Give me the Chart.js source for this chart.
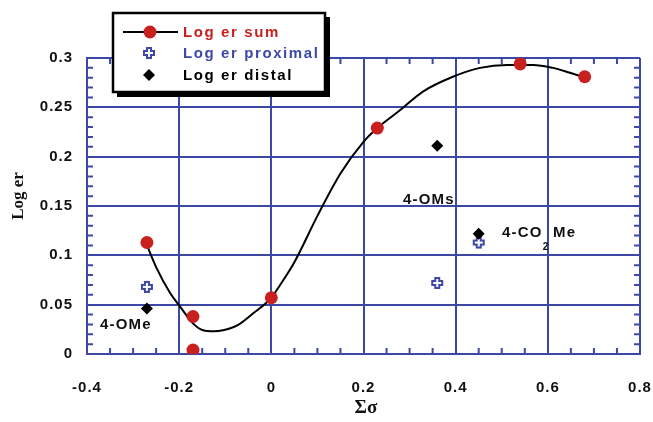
<!DOCTYPE html>
<html>
<head>
<meta charset="utf-8">
<script src="https://cdn.jsdelivr.net/npm/chart.js@4/dist/chart.umd.min.js"></script>
<style>
  html, body { margin: 0; padding: 0; background: #fff; }
  #wrap { width: 653px; height: 422px; position: relative; }
</style>
</head>
<body>
<div id="wrap"><canvas id="c" width="653" height="422"></canvas></div>
<script>
// ---- data ----
const sigmaSum   = [-0.27, -0.17, -0.17, 0.00, 0.23, 0.54, 0.68];
const logErSum   = [0.113, 0.038, 0.004, 0.057, 0.229, 0.294, 0.281];
const sigmaProx  = [-0.27, 0.36, 0.45];
const logErProx  = [0.068, 0.072, 0.113];
const sigmaDist  = [-0.27, 0.36, 0.45];
const logErDist  = [0.046, 0.211, 0.122];
// fitted curve
const fitX = [-0.268, -0.25, -0.22, -0.198, -0.17, -0.148, -0.125, -0.105, -0.074, -0.04, 0.00, 0.019, 0.05, 0.10, 0.15, 0.20, 0.23, 0.279, 0.329, 0.394, 0.453, 0.511, 0.568, 0.611, 0.648, 0.676];
const fitY = [0.108, 0.088, 0.062, 0.048, 0.031, 0.024, 0.023, 0.024, 0.029, 0.041, 0.057, 0.070, 0.093, 0.140, 0.183, 0.215, 0.229, 0.247, 0.266, 0.281, 0.290, 0.293, 0.293, 0.290, 0.285, 0.281];
const xTicks = [-0.4, -0.2, 0, 0.2, 0.4, 0.6, 0.8];
const xTickLabels = ['-0.4', '-0.2', '0', '0.2', '0.4', '0.6', '0.8'];
const yTicks = [0, 0.05, 0.1, 0.15, 0.2, 0.25, 0.3];
const yTickLabels = ['0', '0.05', '0.1', '0.15', '0.2', '0.25', '0.3'];
const legendLabels = ['Log er sum', 'Log er proximal', 'Log er distal'];
const annotations = ['4-OMe', '4-OMs', '4-CO', '2', 'Me'];

const GRID = '#3d48a6';
const RED = '#c8201e';
const BLUE = '#3d48a8';
const FONT = '"Liberation Sans", Arial, sans-serif';

function makeCross() {
  const c = document.createElement('canvas');
  c.width = 14; c.height = 14;
  const g = c.getContext('2d');
  const m = 7, a = 2, L = 5;
  g.beginPath();
  g.moveTo(m - a, m - L); g.lineTo(m + a, m - L); g.lineTo(m + a, m - a);
  g.lineTo(m + L, m - a); g.lineTo(m + L, m + a); g.lineTo(m + a, m + a);
  g.lineTo(m + a, m + L); g.lineTo(m - a, m + L); g.lineTo(m - a, m + a);
  g.lineTo(m - L, m + a); g.lineTo(m - L, m - a); g.lineTo(m - a, m - a);
  g.closePath();
  g.fillStyle = '#fff'; g.fill();
  g.lineWidth = 2; g.strokeStyle = BLUE; g.stroke();
  return c;
}
const crossImg = makeCross();

const toXY = (xs, ys) => xs.map((x, i) => ({ x: x, y: ys[i] }));

const decorPlugin = {
  id: 'decor',
  beforeDraw(chart) {
    chart.ctx.letterSpacing = '1px';
  },
  beforeDatasetsDraw(chart) {
    const ctx = chart.ctx, a = chart.chartArea;
    const xs = chart.scales.x, ys = chart.scales.y;
    ctx.save();
    ctx.strokeStyle = GRID; ctx.lineWidth = 2;
    const len = 6;
    for (let k = -8; k <= 16; k++) {
      if (k % 4 === 0) continue;
      const px = xs.getPixelForValue(k * 0.05);
      ctx.beginPath();
      ctx.moveTo(px, a.bottom); ctx.lineTo(px, a.bottom - len);
      ctx.moveTo(px, a.top); ctx.lineTo(px, a.top + len);
      ctx.stroke();
    }
    for (let k = 1; k < 30; k++) {
      if (k % 5 === 0) continue;
      const py = ys.getPixelForValue(k * 0.01);
      ctx.beginPath();
      ctx.moveTo(a.left, py); ctx.lineTo(a.left + len, py);
      ctx.moveTo(a.right, py); ctx.lineTo(a.right - len, py);
      ctx.stroke();
    }
    ctx.restore();
  },
  afterDraw(chart) {
    const ctx = chart.ctx;
    ctx.save();
    ctx.letterSpacing = '1.2px';
    // annotations
    ctx.fillStyle = '#111';
    ctx.font = 'bold 15px ' + FONT;
    ctx.textBaseline = 'middle';
    ctx.textAlign = 'left';
    ctx.fillText(annotations[0], 100, 325);
    ctx.fillText(annotations[1], 403, 200);
    ctx.fillText(annotations[2], 502, 233);
    const w = ctx.measureText(annotations[2]).width;
    ctx.font = 'bold 10px ' + FONT;
    ctx.fillText(annotations[3], 502 + w, 247);
    ctx.font = 'bold 15px ' + FONT;
    ctx.fillText(annotations[4], 553, 233);

    // axis titles
    ctx.letterSpacing = '0px';
    ctx.font = 'bold 17px "Liberation Serif", "Times New Roman", serif';
    ctx.textAlign = 'center';
    ctx.save();
    ctx.translate(19, 196);
    ctx.rotate(-Math.PI / 2);
    ctx.fillText('Log er', 0, 0);
    ctx.restore();
    ctx.font = 'bold 19px "Liberation Serif", "Times New Roman", serif';
    ctx.fillText('Σσ', 366, 408);

    // legend box
    ctx.fillStyle = '#000';
    ctx.fillRect(117, 17, 213, 80);
    ctx.fillStyle = '#fff';
    ctx.fillRect(113, 13, 212, 79);
    ctx.lineWidth = 2.5;
    ctx.strokeStyle = '#000';
    ctx.strokeRect(113, 13, 212, 79);

    // row 1
    ctx.lineWidth = 2;
    ctx.beginPath(); ctx.moveTo(123, 32); ctx.lineTo(178, 32); ctx.stroke();
    ctx.fillStyle = RED;
    ctx.beginPath(); ctx.arc(150, 32, 6.5, 0, Math.PI * 2); ctx.fill();
    // row 2
    ctx.drawImage(crossImg, 149 - 7, 53 - 7);
    // row 3
    ctx.fillStyle = '#000';
    ctx.beginPath();
    ctx.moveTo(149, 69); ctx.lineTo(155, 75); ctx.lineTo(149, 81); ctx.lineTo(143, 75);
    ctx.closePath(); ctx.fill();

    ctx.letterSpacing = '1.6px';
    ctx.font = 'bold 15px ' + FONT;
    ctx.textAlign = 'left';
    ctx.textBaseline = 'middle';
    ctx.fillStyle = RED;  ctx.fillText(legendLabels[0], 183, 33);
    ctx.fillStyle = BLUE; ctx.fillText(legendLabels[1], 183, 54);
    ctx.fillStyle = '#000'; ctx.fillText(legendLabels[2], 183, 76);
    ctx.restore();
  }
};

new Chart(document.getElementById('c'), {
  type: 'scatter',
  data: {
    datasets: [
      {
        label: 'fit',
        data: toXY(fitX, fitY),
        showLine: true,
        borderColor: '#000',
        borderWidth: 2,
        pointRadius: 0,
        cubicInterpolationMode: 'monotone',
        fill: false,
        order: 3
      },
      {
        label: legendLabels[0],
        data: toXY(sigmaSum, logErSum),
        pointStyle: 'circle',
        pointRadius: 6.5,
        backgroundColor: RED,
        borderColor: RED,
        borderWidth: 0,
        order: 2
      },
      {
        label: legendLabels[1],
        data: toXY(sigmaProx, logErProx),
        pointStyle: crossImg,
        order: 1
      },
      {
        label: legendLabels[2],
        data: toXY(sigmaDist, logErDist),
        pointStyle: 'rectRot',
        pointRadius: 6,
        backgroundColor: '#000',
        borderColor: '#000',
        borderWidth: 0,
        order: 0
      }
    ]
  },
  options: {
    responsive: false,
    animation: false,
    events: [],
    layout: { padding: { left: 0, right: 13, top: 58, bottom: 0 } },
    plugins: { legend: { display: false }, tooltip: { enabled: false } },
    scales: {
      x: {
        type: 'linear',
        min: -0.4, max: 0.8,
        afterBuildTicks: s => { s.ticks = xTicks.map(v => ({ value: v })); },
        afterFit: s => { s.height = 68; s.paddingLeft = 0; s.paddingRight = 0; },
        grid: { color: GRID, lineWidth: 2, drawTicks: false },
        border: { color: GRID, width: 2 },
        ticks: {
          padding: 25,
          color: '#111',
          font: { family: FONT, weight: 'bold', size: 15 },
          callback: (v, i) => xTickLabels[i],
          maxRotation: 0
        }
      },
      y: {
        type: 'linear',
        min: 0, max: 0.3,
        afterBuildTicks: s => { s.ticks = yTicks.map(v => ({ value: v })); },
        afterFit: s => { s.width = 87; s.paddingTop = 0; s.paddingBottom = 0; },
        grid: { color: GRID, lineWidth: 2, drawTicks: false },
        border: { color: GRID, width: 2 },
        ticks: {
          padding: 14,
          color: '#111',
          font: { family: FONT, weight: 'bold', size: 15 },
          callback: (v, i) => yTickLabels[i]
        }
      }
    }
  },
  plugins: [decorPlugin]
});
</script>
</body>
</html>
